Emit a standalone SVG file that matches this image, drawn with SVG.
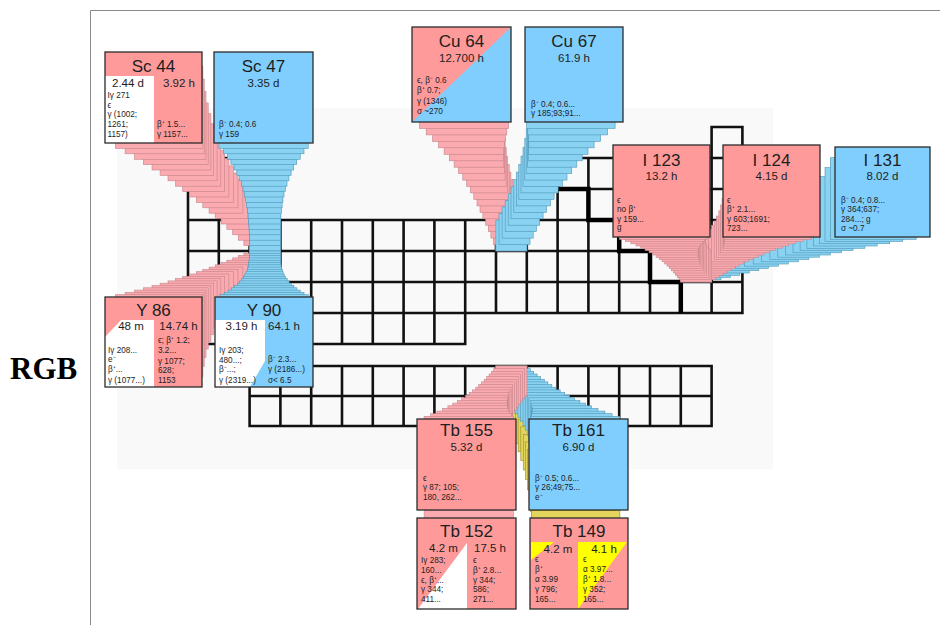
<svg xmlns="http://www.w3.org/2000/svg" width="940" height="625" viewBox="0 0 940 625">
<style>
text{font-family:"Liberation Sans",Arial,sans-serif;fill:#1e1e1e}
.ttl{font-size:17px;text-anchor:middle}
.hl{font-size:11.5px;text-anchor:middle}
.sm{font-size:8.2px}
.pk{fill:#fe9a9a}
.bl{fill:#7fcefd}
.bd{fill:none;stroke:#2b2b2b;stroke-width:1.3}
.fp rect{fill:#fbaab0;stroke:#c4848a;stroke-width:.6}
.fb rect{fill:#8ad2f2;stroke:#4f97b6;stroke-width:.6}
.fy rect{fill:#e3d45c;stroke:#9a8b2c;stroke-width:.6}
.grid{fill:none;stroke:#111;stroke-width:2.6;stroke-linecap:square}
</style>
<g id="background">
<rect x="0" y="0" width="940" height="625" fill="#fff"/>
<rect x="117" y="108" width="656" height="361" fill="#f9f9f9"/>
<path d="M90.5 625V10.5H940" fill="none" stroke="#8a8a8a" stroke-width="1"/>
<text x="10" y="379" style="font-family:'Liberation Serif','Times New Roman',serif;font-size:31px;font-weight:bold;fill:#000">RGB</text>
</g>
<g id="grid">
<path class="grid" d="M188 127H218.8M711.6 127H742.4M188 158H249.6M557.6 158H742.4M188 189H249.6M557.6 189H742.4M188 220H742.4M188 251H742.4M188 282H742.4M188 313H742.4M188 344H465.2M188 127V344M218.8 127V344M249.6 158V344M280.4 220V344M311.2 220V344M342 220V344M372.8 220V344M403.6 220V344M434.4 220V344M465.2 220V344M496 220V313M526.8 220V313M557.6 158V313M588.4 158V313M619.2 158V313M650 158V313M680.8 158V313M711.6 127V313M742.4 127V313"/>
<path class="grid" d="M249.6 366H711.6M249.6 396H711.6M249.6 426H711.6M249.6 366V426M280.4 366V426M311.2 366V426M342 366V426M372.8 366V426M403.6 366V426M434.4 366V426M465.2 366V426M496 366V426M526.8 366V426M557.6 366V426M588.4 366V426M619.2 366V426M650 366V426M680.8 366V426M711.6 366V426"/>
<path d="M557.6 158V189H588.4V220H619.2V251H650V282H680.8V313" fill="none" stroke="#000" stroke-width="4.5"/>
</g>
<g id="connectors">
<g id="fan-sc44" class="fp">
<rect x="249.5" y="220" width="31" height="31"/><rect x="243.9" y="214.6" width="31" height="31"/><rect x="238.3" y="209.1" width="31.1" height="31.1"/><rect x="232.7" y="203.6" width="31.2" height="31.2"/><rect x="226.9" y="197.9" width="31.5" height="31.5"/><rect x="221.1" y="192.1" width="32" height="31.9"/><rect x="215.2" y="186" width="32.8" height="32.6"/><rect x="209.1" y="179.6" width="33.8" height="33.6"/><rect x="202.8" y="173" width="35.2" height="34.8"/><rect x="196.3" y="165.9" width="37" height="36.5"/><rect x="189.6" y="158.5" width="39.3" height="38.5"/><rect x="182.7" y="150.6" width="42" height="41"/><rect x="175.5" y="142.2" width="45.3" height="44"/><rect x="168" y="133.3" width="49.1" height="47.5"/><rect x="160.1" y="123.8" width="53.6" height="51.6"/><rect x="152" y="113.7" width="58.9" height="56.3"/><rect x="143.4" y="102.9" width="64.8" height="61.7"/><rect x="134.5" y="91.4" width="71.5" height="67.9"/><rect x="125.1" y="79.1" width="79.1" height="74.7"/><rect x="115.3" y="66" width="87.6" height="82.4"/>
</g>
<g id="fan-y86" class="fp">
<rect x="249.5" y="251" width="31" height="31"/><rect x="243.9" y="253.3" width="31" height="31"/><rect x="238.3" y="255.6" width="31.1" height="31.1"/><rect x="232.7" y="257.9" width="31.2" height="31.2"/><rect x="226.9" y="260.2" width="31.5" height="31.5"/><rect x="221.1" y="262.5" width="32" height="31.9"/><rect x="215.2" y="264.8" width="32.8" height="32.6"/><rect x="209.1" y="267.1" width="33.8" height="33.5"/><rect x="202.8" y="269.4" width="35.2" height="34.8"/><rect x="196.3" y="271.7" width="37" height="36.4"/><rect x="189.6" y="274" width="39.3" height="38.4"/><rect x="182.7" y="276.3" width="42" height="40.8"/><rect x="175.5" y="278.6" width="45.3" height="43.7"/><rect x="168" y="280.9" width="49.1" height="47.2"/><rect x="160.1" y="283.2" width="53.6" height="51.2"/><rect x="152" y="285.5" width="58.9" height="55.9"/><rect x="143.4" y="287.8" width="64.8" height="61.2"/><rect x="134.5" y="290.1" width="71.5" height="67.2"/><rect x="125.1" y="292.4" width="79.1" height="74"/><rect x="115.3" y="294.7" width="87.6" height="81.6"/>
</g>
<g id="fan-sc47" class="fb">
<rect x="249.5" y="220" width="31" height="31"/><rect x="249.4" y="214.6" width="31" height="31"/><rect x="249.3" y="209.1" width="31.1" height="31.1"/><rect x="249.2" y="203.6" width="31.2" height="31.2"/><rect x="248.9" y="197.9" width="31.5" height="31.5"/><rect x="248.6" y="192.1" width="32.1" height="31.9"/><rect x="248.1" y="186" width="32.8" height="32.6"/><rect x="247.5" y="179.6" width="33.9" height="33.6"/><rect x="246.7" y="173" width="35.4" height="34.8"/><rect x="245.7" y="165.9" width="37.2" height="36.5"/><rect x="244.5" y="158.5" width="39.5" height="38.5"/><rect x="243" y="150.6" width="42.3" height="41"/><rect x="241.3" y="142.2" width="45.7" height="44"/><rect x="239.2" y="133.3" width="49.7" height="47.5"/><rect x="236.8" y="123.8" width="54.3" height="51.6"/><rect x="234" y="113.7" width="59.7" height="56.3"/><rect x="230.9" y="102.9" width="65.8" height="61.7"/><rect x="227.4" y="91.4" width="72.8" height="67.9"/><rect x="223.4" y="79.1" width="80.6" height="74.7"/><rect x="218.9" y="66" width="89.3" height="82.4"/>
</g>
<g id="fan-y90" class="fb">
<rect x="249.5" y="251" width="31" height="31"/><rect x="249.4" y="253.3" width="31" height="31"/><rect x="249.4" y="255.6" width="31.1" height="31.1"/><rect x="249.2" y="257.9" width="31.2" height="31.2"/><rect x="249" y="260.2" width="31.5" height="31.5"/><rect x="248.7" y="262.5" width="32.1" height="31.9"/><rect x="248.3" y="264.8" width="32.8" height="32.6"/><rect x="247.7" y="267.1" width="33.9" height="33.5"/><rect x="247" y="269.4" width="35.3" height="34.8"/><rect x="246" y="271.7" width="37.1" height="36.4"/><rect x="244.8" y="274" width="39.4" height="38.4"/><rect x="243.4" y="276.3" width="42.2" height="40.8"/><rect x="241.7" y="278.6" width="45.5" height="43.7"/><rect x="239.7" y="280.9" width="49.4" height="47.2"/><rect x="237.3" y="283.2" width="54" height="51.2"/><rect x="234.6" y="285.5" width="59.3" height="55.9"/><rect x="231.6" y="287.8" width="65.3" height="61.2"/><rect x="228.1" y="290.1" width="72.1" height="67.2"/><rect x="224.2" y="292.4" width="79.8" height="74"/><rect x="219.8" y="294.7" width="88.5" height="81.6"/>
</g>
<g id="fan-cu64" class="fp">
<rect x="495.9" y="220" width="31" height="31"/><rect x="493.4" y="213.5" width="31" height="31"/><rect x="490.9" y="207" width="31.1" height="31.1"/><rect x="488.3" y="200.4" width="31.2" height="31.2"/><rect x="485.7" y="193.7" width="31.5" height="31.5"/><rect x="482.9" y="186.8" width="32.1" height="32"/><rect x="480" y="179.6" width="32.8" height="32.7"/><rect x="477" y="172.1" width="33.9" height="33.8"/><rect x="473.8" y="164.3" width="35.4" height="35.1"/><rect x="470.4" y="156.1" width="37.2" height="36.8"/><rect x="466.7" y="147.5" width="39.5" height="39"/><rect x="462.8" y="138.4" width="42.3" height="41.7"/><rect x="458.6" y="128.8" width="45.7" height="44.8"/><rect x="454.1" y="118.6" width="49.7" height="48.6"/><rect x="449.3" y="107.8" width="54.3" height="53"/><rect x="444.1" y="96.3" width="59.7" height="58"/><rect x="438.6" y="84" width="65.8" height="63.8"/><rect x="432.6" y="71.1" width="72.8" height="70.3"/><rect x="426.2" y="57.2" width="80.6" height="77.7"/><rect x="419.4" y="42.6" width="89.3" height="85.9"/>
</g>
<g id="fan-cu67" class="fb">
<rect x="495.9" y="220" width="31" height="31"/><rect x="499" y="213.5" width="31" height="31"/><rect x="502.1" y="207" width="31.1" height="31.1"/><rect x="505.2" y="200.4" width="31.2" height="31.2"/><rect x="508.2" y="193.7" width="31.5" height="31.5"/><rect x="511" y="186.8" width="32.1" height="32"/><rect x="513.8" y="179.6" width="32.8" height="32.7"/><rect x="516.4" y="172.1" width="33.9" height="33.8"/><rect x="518.8" y="164.3" width="35.3" height="35.1"/><rect x="521" y="156.1" width="37.1" height="36.8"/><rect x="523" y="147.5" width="39.4" height="39"/><rect x="524.8" y="138.4" width="42.2" height="41.7"/><rect x="526.2" y="128.8" width="45.5" height="44.8"/><rect x="527.4" y="118.6" width="49.4" height="48.6"/><rect x="528.2" y="107.8" width="54" height="53"/><rect x="528.7" y="96.3" width="59.3" height="58"/><rect x="528.8" y="84" width="65.3" height="63.8"/><rect x="528.5" y="71.1" width="72.1" height="70.3"/><rect x="527.8" y="57.2" width="79.8" height="77.7"/><rect x="526.6" y="42.6" width="88.5" height="85.9"/>
</g>
<g id="fan-i131" class="fb">
<rect x="680.7" y="251" width="31" height="31"/><rect x="690" y="248.7" width="31" height="31"/><rect x="699.3" y="246.4" width="31.1" height="31.1"/><rect x="708.5" y="244.1" width="31.2" height="31.2"/><rect x="717.7" y="241.5" width="31.5" height="31.5"/><rect x="726.8" y="238.8" width="32" height="31.9"/><rect x="735.7" y="235.9" width="32.7" height="32.6"/><rect x="744.5" y="232.7" width="33.8" height="33.5"/><rect x="753.2" y="229.2" width="35.1" height="34.8"/><rect x="761.6" y="225.4" width="36.8" height="36.4"/><rect x="769.9" y="221.1" width="39" height="38.4"/><rect x="777.8" y="216.4" width="41.7" height="40.8"/><rect x="785.6" y="211.3" width="44.8" height="43.7"/><rect x="793" y="205.6" width="48.6" height="47.2"/><rect x="800.1" y="199.3" width="53" height="51.2"/><rect x="806.9" y="192.4" width="58" height="55.9"/><rect x="813.4" y="184.8" width="63.8" height="61.2"/><rect x="819.4" y="176.5" width="70.3" height="67.2"/><rect x="825" y="167.5" width="77.7" height="74"/><rect x="830.3" y="157.7" width="85.9" height="81.6"/>
</g>
<g id="fan-i124" class="fp">
<rect x="680.7" y="251" width="31" height="31"/><rect x="684.5" y="248.7" width="31" height="31"/><rect x="688.2" y="246.4" width="31.1" height="31.1"/><rect x="691.9" y="244" width="31.2" height="31.2"/><rect x="695.5" y="241.5" width="31.5" height="31.5"/><rect x="699" y="238.8" width="32" height="32"/><rect x="702.4" y="235.9" width="32.8" height="32.7"/><rect x="705.6" y="232.6" width="33.8" height="33.6"/><rect x="708.7" y="229.1" width="35.2" height="34.9"/><rect x="711.6" y="225.2" width="37" height="36.6"/><rect x="714.2" y="220.9" width="39.3" height="38.6"/><rect x="716.6" y="216.1" width="42" height="41.2"/><rect x="718.8" y="210.8" width="45.3" height="44.2"/><rect x="720.6" y="205" width="49.1" height="47.8"/><rect x="722.1" y="198.6" width="53.6" height="51.9"/><rect x="723.3" y="191.5" width="58.9" height="56.7"/><rect x="724" y="183.8" width="64.8" height="62.2"/><rect x="724.4" y="175.3" width="71.5" height="68.5"/><rect x="724.4" y="166" width="79.1" height="75.5"/><rect x="723.9" y="156" width="87.6" height="83.3"/>
</g>
<g id="fan-i123" class="fp">
<rect x="680.7" y="251" width="31" height="31"/><rect x="679" y="248.7" width="31" height="31"/><rect x="677.2" y="246.4" width="31.1" height="31.1"/><rect x="675.4" y="244" width="31.2" height="31.2"/><rect x="673.5" y="241.5" width="31.5" height="31.5"/><rect x="671.5" y="238.8" width="32" height="32"/><rect x="669.4" y="235.9" width="32.8" height="32.7"/><rect x="667.1" y="232.6" width="33.8" height="33.6"/><rect x="664.7" y="229.1" width="35.2" height="34.9"/><rect x="662.1" y="225.2" width="37" height="36.6"/><rect x="659.2" y="220.9" width="39.3" height="38.6"/><rect x="656.1" y="216.1" width="42" height="41.2"/><rect x="652.8" y="210.8" width="45.3" height="44.2"/><rect x="649.1" y="205" width="49.1" height="47.8"/><rect x="645.1" y="198.6" width="53.6" height="51.9"/><rect x="640.8" y="191.5" width="58.9" height="56.7"/><rect x="636" y="183.8" width="64.8" height="62.2"/><rect x="630.9" y="175.3" width="71.5" height="68.5"/><rect x="625.4" y="166" width="79.1" height="75.5"/><rect x="619.4" y="156" width="87.6" height="83.3"/>
</g>
<g id="fan-tb152" class="fp">
<rect x="495.9" y="366" width="31" height="30"/><rect x="493.7" y="373.6" width="31" height="30"/><rect x="491.4" y="381.2" width="31.1" height="30.1"/><rect x="489.1" y="388.8" width="31.2" height="30.2"/><rect x="486.7" y="396.4" width="31.5" height="30.5"/><rect x="484.2" y="404" width="32.1" height="31"/><rect x="481.5" y="411.6" width="32.8" height="31.7"/><rect x="478.7" y="419.2" width="33.9" height="32.6"/><rect x="475.8" y="426.8" width="35.4" height="33.9"/><rect x="472.6" y="434.4" width="37.2" height="35.6"/><rect x="469.2" y="442" width="39.5" height="37.6"/><rect x="465.6" y="449.6" width="42.3" height="40.2"/><rect x="461.6" y="457.2" width="45.7" height="43.2"/><rect x="457.4" y="464.8" width="49.7" height="46.8"/><rect x="452.8" y="472.4" width="54.3" height="50.9"/><rect x="447.9" y="480" width="59.7" height="55.7"/><rect x="442.6" y="487.6" width="65.8" height="61.2"/><rect x="436.9" y="495.2" width="72.8" height="67.5"/><rect x="430.7" y="502.8" width="80.6" height="74.5"/><rect x="424.1" y="510.4" width="89.3" height="82.3"/>
</g>
<g id="fan-tb149" class="fy">
<rect x="495.9" y="366" width="31" height="30"/><rect x="499.3" y="373.6" width="31" height="30"/><rect x="502.6" y="381.2" width="31.1" height="30.1"/><rect x="505.9" y="388.8" width="31.2" height="30.2"/><rect x="509.2" y="396.4" width="31.5" height="30.5"/><rect x="512.3" y="404" width="32.1" height="31"/><rect x="515.3" y="411.6" width="32.8" height="31.7"/><rect x="518.1" y="419.2" width="33.9" height="32.6"/><rect x="520.8" y="426.8" width="35.3" height="33.9"/><rect x="523.3" y="434.4" width="37.1" height="35.6"/><rect x="525.5" y="442" width="39.4" height="37.6"/><rect x="527.5" y="449.6" width="42.2" height="40.2"/><rect x="529.2" y="457.2" width="45.5" height="43.2"/><rect x="530.6" y="464.8" width="49.4" height="46.8"/><rect x="531.7" y="472.4" width="54" height="50.9"/><rect x="532.5" y="480" width="59.3" height="55.7"/><rect x="532.8" y="487.6" width="65.3" height="61.2"/><rect x="532.8" y="495.2" width="72.1" height="67.5"/><rect x="532.3" y="502.8" width="79.8" height="74.5"/><rect x="531.4" y="510.4" width="88.5" height="82.3"/>
</g>
<g id="fan-tb161" class="fb">
<rect x="495.9" y="366" width="31" height="30"/><rect x="499.3" y="368.7" width="31" height="30"/><rect x="502.6" y="371.3" width="31.1" height="30.1"/><rect x="505.9" y="374" width="31.2" height="30.2"/><rect x="509.1" y="376.6" width="31.5" height="30.5"/><rect x="512.2" y="379.3" width="32.1" height="31"/><rect x="515.1" y="381.9" width="32.8" height="31.7"/><rect x="517.9" y="384.6" width="33.9" height="32.6"/><rect x="520.6" y="387.2" width="35.4" height="33.9"/><rect x="523" y="389.9" width="37.2" height="35.6"/><rect x="525.2" y="392.5" width="39.5" height="37.6"/><rect x="527.2" y="395.2" width="42.3" height="40.2"/><rect x="528.8" y="397.8" width="45.7" height="43.2"/><rect x="530.2" y="400.5" width="49.7" height="46.8"/><rect x="531.2" y="403.1" width="54.3" height="50.9"/><rect x="531.9" y="405.8" width="59.7" height="55.7"/><rect x="532.2" y="408.4" width="65.8" height="61.2"/><rect x="532.1" y="411.1" width="72.8" height="67.5"/><rect x="531.5" y="413.7" width="80.6" height="74.5"/><rect x="530.5" y="416.4" width="89.3" height="82.3"/>
</g>
<g id="fan-tb155" class="fp">
<rect x="495.9" y="366" width="31" height="30"/><rect x="493.7" y="368.7" width="31" height="30"/><rect x="491.4" y="371.3" width="31.1" height="30.1"/><rect x="489.1" y="374" width="31.2" height="30.2"/><rect x="486.7" y="376.6" width="31.5" height="30.5"/><rect x="484.2" y="379.3" width="32.1" height="31"/><rect x="481.5" y="381.9" width="32.8" height="31.7"/><rect x="478.7" y="384.6" width="33.9" height="32.6"/><rect x="475.8" y="387.2" width="35.4" height="33.9"/><rect x="472.6" y="389.9" width="37.2" height="35.6"/><rect x="469.2" y="392.5" width="39.5" height="37.6"/><rect x="465.6" y="395.2" width="42.3" height="40.2"/><rect x="461.6" y="397.8" width="45.7" height="43.2"/><rect x="457.4" y="400.5" width="49.7" height="46.8"/><rect x="452.8" y="403.1" width="54.3" height="50.9"/><rect x="447.9" y="405.8" width="59.7" height="55.7"/><rect x="442.6" y="408.4" width="65.8" height="61.2"/><rect x="436.9" y="411.1" width="72.8" height="67.5"/><rect x="430.7" y="413.7" width="80.6" height="74.5"/><rect x="424.1" y="416.4" width="89.3" height="82.3"/>
</g>
</g>
<g id="node-sc44">
<rect class="pk" x="105" y="52" width="97" height="91"/>
<rect x="105" y="76" width="49" height="67" fill="#fff"/>
<rect class="bd" x="105" y="52" width="97" height="91"/>
<text class="ttl" x="153.5" y="72">Sc 44</text>
<text class="hl" x="128" y="87">2.44 d</text>
<text class="hl" x="179" y="87">3.92 h</text>
<text class="sm" x="107.5" y="97.5">Iγ 271</text>
<text class="sm" x="107.5" y="107.5">ϵ</text>
<text class="sm" x="107.5" y="117">γ (1002;</text>
<text class="sm" x="107.5" y="127.3">1261;</text>
<text class="sm" x="107.5" y="137.3">1157)</text>
<text class="sm" x="157" y="127.3">β⁺ 1.5...</text>
<text class="sm" x="157" y="137.3">γ 1157...</text>
</g>
<g id="node-sc47">
<rect class="bl" x="214" y="52" width="99" height="91"/>
<rect class="bd" x="214" y="52" width="99" height="91"/>
<text class="ttl" x="263.5" y="72">Sc 47</text>
<text class="hl" x="263.5" y="87">3.35 d</text>
<text class="sm" x="219" y="127.3">β⁻ 0.4; 0.6</text>
<text class="sm" x="219" y="137.3">γ 159</text>
</g>
<g id="node-cu64">
<rect class="bl" x="412" y="27" width="99" height="95"/>
<polygon class="pk" points="412,27 511,27 412,122"/>
<rect class="bd" x="412" y="27" width="99" height="95"/>
<text class="ttl" x="461.5" y="47">Cu 64</text>
<text class="hl" x="461.5" y="62">12.700 h</text>
<text class="sm" x="417" y="83">ϵ, β⁻ 0.6</text>
<text class="sm" x="417" y="93">β⁺ 0.7;</text>
<text class="sm" x="417" y="103.5">γ (1346)</text>
<text class="sm" x="417" y="114">σ ~270</text>
</g>
<g id="node-cu67">
<rect class="bl" x="525" y="27" width="98" height="95"/>
<rect class="bd" x="525" y="27" width="98" height="95"/>
<text class="ttl" x="574" y="47">Cu 67</text>
<text class="hl" x="574" y="62">61.9 h</text>
<text class="sm" x="531" y="106.5">β⁻ 0.4; 0.6...</text>
<text class="sm" x="531" y="116">γ 185;93;91...</text>
</g>
<g id="node-i123">
<rect class="pk" x="613" y="145" width="97" height="92"/>
<rect class="bd" x="613" y="145" width="97" height="92"/>
<text class="ttl" x="661.5" y="166">I 123</text>
<text class="hl" x="661.5" y="179.5">13.2 h</text>
<text class="sm" x="617" y="202.5">ϵ</text>
<text class="sm" x="617" y="212">no β⁺</text>
<text class="sm" x="617" y="221.5">γ 159...</text>
<text class="sm" x="617" y="230">g</text>
</g>
<g id="node-i124">
<rect class="pk" x="723" y="145" width="97" height="92"/>
<rect class="bd" x="723" y="145" width="97" height="92"/>
<text class="ttl" x="771.5" y="166">I 124</text>
<text class="hl" x="771.5" y="179.5">4.15 d</text>
<text class="sm" x="727" y="202.5">ϵ</text>
<text class="sm" x="727" y="212">β⁺ 2.1...</text>
<text class="sm" x="727" y="221.5">γ 603;1691;</text>
<text class="sm" x="727" y="231">723...</text>
</g>
<g id="node-i131">
<rect class="bl" x="835" y="147" width="95" height="90"/>
<rect class="bd" x="835" y="147" width="95" height="90"/>
<text class="ttl" x="882.5" y="166">I 131</text>
<text class="hl" x="882.5" y="179.5">8.02 d</text>
<text class="sm" x="841" y="202.5">β⁻ 0.4; 0.8...</text>
<text class="sm" x="841" y="212">γ 364;637;</text>
<text class="sm" x="841" y="221.5">284...; g</text>
<text class="sm" x="841" y="231">σ ~0.7</text>
</g>
<g id="node-y86">
<rect class="pk" x="105" y="297" width="97" height="90"/>
<polygon points="121,320 154,320 154,387 105,387 105,337" fill="#fff"/>
<rect class="bd" x="105" y="297" width="97" height="90"/>
<text class="ttl" x="153.5" y="316">Y 86</text>
<text class="hl" x="131" y="330">48 m</text>
<text class="hl" x="178.5" y="330">14.74 h</text>
<text class="sm" x="108" y="353">Iγ 208...</text>
<text class="sm" x="108" y="362">e⁻</text>
<text class="sm" x="108" y="372">β⁺...</text>
<text class="sm" x="108" y="382.5">γ (1077...)</text>
<text class="sm" x="158" y="343">ϵ; β⁺ 1.2;</text>
<text class="sm" x="158" y="352.5">3.2...</text>
<text class="sm" x="158" y="364">γ 1077;</text>
<text class="sm" x="158" y="373.3">628;</text>
<text class="sm" x="158" y="382.5">1153</text>
</g>
<g id="node-y90">
<rect class="bl" x="215" y="297" width="98" height="90"/>
<polygon points="215,320 265,320 265,361 250,387 215,387" fill="#fff"/>
<rect class="bd" x="215" y="297" width="98" height="90"/>
<text class="ttl" x="264" y="316">Y 90</text>
<text class="hl" x="241.5" y="330">3.19 h</text>
<text class="hl" x="284" y="330">64.1 h</text>
<text class="sm" x="219" y="353">Iγ 203;</text>
<text class="sm" x="219" y="362.5">480...;</text>
<text class="sm" x="219" y="372">β⁻...;</text>
<text class="sm" x="219" y="382.5">γ (2319...)</text>
<text class="sm" x="268" y="362">β⁻ 2.3...</text>
<text class="sm" x="268" y="372">γ (2186...)</text>
<text class="sm" x="268" y="382.5">σ&lt; 6.5</text>
</g>
<g id="node-tb155">
<rect class="pk" x="417" y="419" width="99" height="91"/>
<rect class="bd" x="417" y="419" width="99" height="91"/>
<text class="ttl" x="466.5" y="436">Tb 155</text>
<text class="hl" x="466.5" y="451">5.32 d</text>
<text class="sm" x="423" y="480.5">ϵ</text>
<text class="sm" x="423" y="490.3">γ 87; 105;</text>
<text class="sm" x="423" y="500.3">180, 262...</text>
</g>
<g id="node-tb161">
<rect class="bl" x="529" y="419" width="99" height="91"/>
<rect class="bd" x="529" y="419" width="99" height="91"/>
<text class="ttl" x="578.5" y="436">Tb 161</text>
<text class="hl" x="578.5" y="451">6.90 d</text>
<text class="sm" x="535" y="480.5">β⁻ 0.5; 0.6...</text>
<text class="sm" x="535" y="490.3">γ 26;49;75...</text>
<text class="sm" x="535" y="500.3">e⁻</text>
</g>
<g id="node-tb152">
<rect class="pk" x="417" y="518" width="99" height="91"/>
<polygon points="418,609 467,543 467,609" fill="#fff"/>
<rect class="bd" x="417" y="518" width="99" height="91"/>
<text class="ttl" x="466.5" y="537">Tb 152</text>
<text class="hl" x="443.5" y="552">4.2 m</text>
<text class="hl" x="490" y="552">17.5 h</text>
<text class="sm" x="421" y="563">Iγ 283;</text>
<text class="sm" x="421" y="572.5">160...</text>
<text class="sm" x="421" y="582.5">ϵ, β⁺...</text>
<text class="sm" x="421" y="592">γ 344;</text>
<text class="sm" x="421" y="602">411...</text>
<text class="sm" x="473" y="563">ϵ</text>
<text class="sm" x="473" y="572.5">β⁺ 2.8...</text>
<text class="sm" x="473" y="582.5">γ 344;</text>
<text class="sm" x="473" y="592">586;</text>
<text class="sm" x="473" y="602">271...</text>
</g>
<g id="node-tb149">
<rect class="pk" x="530" y="518" width="98" height="91"/>
<polygon points="531,542 554,542 531,560" fill="#ffff00"/>
<polygon points="578,542 627,542 578,609" fill="#ffff00"/>
<rect class="bd" x="530" y="518" width="98" height="91"/>
<text class="ttl" x="579" y="537">Tb 149</text>
<text class="hl" x="558" y="552.5">4.2 m</text>
<text class="hl" x="604" y="552.5">4.1 h</text>
<text class="sm" x="535" y="562.3">ϵ</text>
<text class="sm" x="535" y="572.3">β⁺</text>
<text class="sm" x="535" y="582">α 3.99</text>
<text class="sm" x="535" y="592">γ 796;</text>
<text class="sm" x="535" y="601.7">165...</text>
<text class="sm" x="583" y="562.3">ϵ</text>
<text class="sm" x="583" y="572.3">α 3.97...</text>
<text class="sm" x="583" y="582">β⁺ 1.8...</text>
<text class="sm" x="583" y="592">γ 352;</text>
<text class="sm" x="583" y="601.7">165...</text>
</g>
</svg>
